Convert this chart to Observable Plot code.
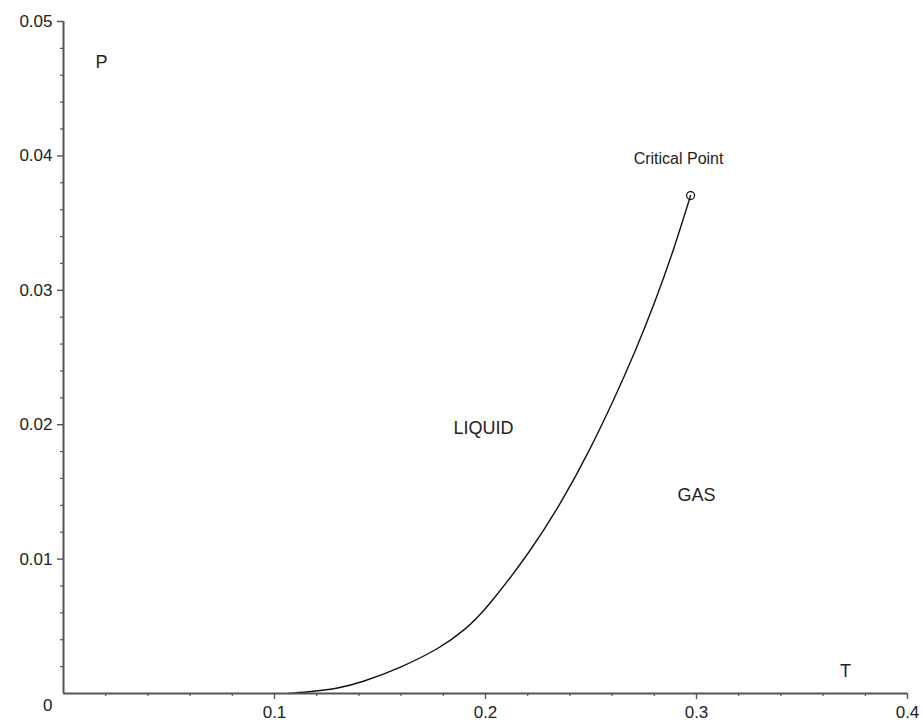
<!DOCTYPE html>
<html>
<head>
<meta charset="utf-8">
<script src="https://cdn.jsdelivr.net/npm/d3@7"></script>
<script src="https://cdn.jsdelivr.net/npm/@observablehq/plot@0.6"></script>
<style>
  html, body { margin: 0; padding: 0; background: #fff; }
  #chart svg { display: block; }
</style>
</head>
<body>
<div id="chart"></div>
<script>
// Coexistence curve (T, P)
const curveT = [0.1066, 0.1185, 0.13, 0.1408, 0.1597, 0.1787, 0.19, 0.2, 0.2215, 0.2365, 0.2493, 0.2607, 0.2712, 0.2806, 0.2891, 0.2972];
const curveP = [0.0, 0.00015, 0.00038, 0.0008, 0.0019, 0.0034, 0.0047, 0.0062, 0.0106, 0.01435, 0.01807, 0.0218, 0.02552, 0.02924, 0.03296, 0.03705];

// Critical point
const criticalT = [0.2972];
const criticalP = [0.03705];

// Region / axis labels
const labelText = ["P", "Critical Point", "LIQUID", "GAS", "T"];
const labelT = [0.018, 0.2915, 0.199, 0.300, 0.3706];
const labelP = [0.04696, 0.0398, 0.01977, 0.01472, 0.00169];
const labelSize = [18, 16, 18, 18, 18];

// Ticks
const xMajor = [0.1, 0.2, 0.3, 0.4];
const xMinor = [0.02, 0.04, 0.06, 0.08, 0.12, 0.14, 0.16, 0.18, 0.22, 0.24, 0.26, 0.28, 0.32, 0.34, 0.36, 0.38];
const yMajor = [0.01, 0.02, 0.03, 0.04, 0.05];
const yMinor = [0.002, 0.004, 0.006, 0.008, 0.012, 0.014, 0.016, 0.018, 0.022, 0.024, 0.026, 0.028, 0.032, 0.034, 0.036, 0.038, 0.042, 0.044, 0.046, 0.048];
const originLabel = ["0"];

const curve = curveT.map((t, i) => ({T: t, P: curveP[i]}));
const crit = criticalT.map((t, i) => ({T: t, P: criticalP[i]}));
const labels = labelText.map((s, i) => ({text: s, T: labelT[i], P: labelP[i], size: labelSize[i]}));

const axisColor = "#555";
const textColor = "#222";
const font = "'Liberation Sans', Arial, Helvetica, sans-serif";

const chart = Plot.plot({
  width: 923,
  height: 724,
  marginLeft: 63,
  marginRight: 16,
  marginTop: 21,
  marginBottom: 31,
  style: {fontFamily: font, background: "#fff", color: textColor},
  x: {domain: [0, 0.4]},
  y: {domain: [0, 0.05]},
  marks: [
    // minor ticks
    Plot.axisX({ticks: xMinor, tickSize: 3, text: null, label: null, stroke: axisColor, strokeWidth: 1.2}),
    Plot.axisY({ticks: yMinor, tickSize: 3, text: null, label: null, stroke: axisColor, strokeWidth: 1.2}),
    // major ticks + labels
    Plot.axisX({ticks: xMajor, tickSize: 6, tickPadding: 6, tickFormat: d => String(+d.toFixed(2)), fontSize: 17, fill: textColor, stroke: axisColor, strokeWidth: 1.4, label: null}),
    Plot.axisY({ticks: yMajor, tickSize: 6, tickPadding: 5, tickFormat: d => String(+d.toFixed(3)), fontSize: 17, fill: textColor, stroke: axisColor, strokeWidth: 1.4, label: null}),
    // curve
    Plot.line(curve, {x: "T", y: "P", curve: "basis", stroke: "#111", strokeWidth: 1.4}),
    // axis lines
    Plot.ruleY([0], {stroke: axisColor, strokeWidth: 2}),
    Plot.ruleX([0], {stroke: axisColor, strokeWidth: 2}),
    // origin label
    Plot.text(originLabel, {x: () => 0, y: () => 0, text: d => d, dx: -11, dy: 12, fontSize: 17, fill: textColor, textAnchor: "end"}),
    Plot.dot(crit, {x: "T", y: "P", r: 4, stroke: "#111", strokeWidth: 1.2, fill: "none"}),
    // labels
    Plot.text(labels, {x: "T", y: "P", text: "text", fontSize: d => d.size, fill: textColor})
  ]
});

document.getElementById("chart").appendChild(chart);
</script>
</body>
</html>
